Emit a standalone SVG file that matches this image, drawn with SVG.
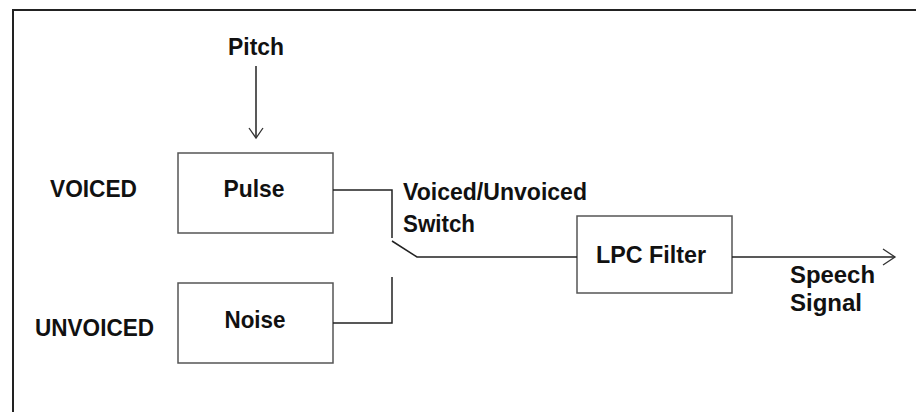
<svg xmlns="http://www.w3.org/2000/svg" width="916" height="412" viewBox="0 0 916 412">
<style>
.t{font-family:"Liberation Sans",Arial,sans-serif;font-weight:bold;font-size:24px;fill:#111}
.box{fill:#fff;stroke:#555;stroke-width:1.5}
.ln{fill:none;stroke:#222;stroke-width:1.5}
.ah{fill:none;stroke:#333;stroke-width:1.3}
</style>
<rect width="916" height="412" fill="#fff"/>
<path d="M13 412 V10 H916" fill="none" stroke="#222" stroke-width="2"/>
<g id="labels">
<text class="t" x="256" y="55" text-anchor="middle" textLength="56" lengthAdjust="spacingAndGlyphs">Pitch</text>
<text class="t" x="50" y="197" textLength="87" lengthAdjust="spacingAndGlyphs">VOICED</text>
<text class="t" x="35" y="336" textLength="119" lengthAdjust="spacingAndGlyphs">UNVOICED</text>
<text class="t" x="403" y="200" textLength="184" lengthAdjust="spacingAndGlyphs">Voiced/Unvoiced</text>
<text class="t" x="403" y="232" textLength="72" lengthAdjust="spacingAndGlyphs">Switch</text>
<text class="t" x="790" y="283" textLength="85" lengthAdjust="spacingAndGlyphs">Speech</text>
<text class="t" x="790" y="311" textLength="72" lengthAdjust="spacingAndGlyphs">Signal</text>
</g>
<g id="pulse">
<rect class="box" x="178" y="153" width="155" height="80"/>
<text class="t" x="254" y="197" text-anchor="middle" textLength="61" lengthAdjust="spacingAndGlyphs">Pulse</text>
</g>
<g id="noise">
<rect class="box" x="178" y="283" width="155" height="80"/>
<text class="t" x="255" y="328" text-anchor="middle" textLength="61" lengthAdjust="spacingAndGlyphs">Noise</text>
</g>
<g id="lpc">
<rect class="box" x="577" y="216" width="155" height="77"/>
<text class="t" x="651" y="263" text-anchor="middle" textLength="110" lengthAdjust="spacingAndGlyphs">LPC Filter</text>
</g>
<g id="connectors">
<path class="ln" d="M256 66 V138"/>
<path class="ah" d="M249 128 L256 138 L263 128"/>
<path class="ln" d="M333 190 H392 V238"/>
<path class="ln" d="M392 241 L417 257 H577"/>
<path class="ln" d="M333 323 H392 V277"/>
<path class="ln" d="M732 257 H895"/>
<path class="ah" d="M883 249 L895 257 L883 265"/>
</g>
</svg>
